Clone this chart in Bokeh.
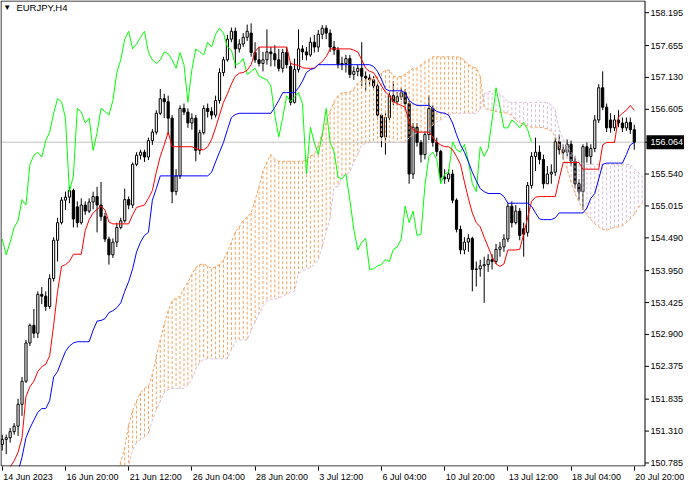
from bokeh.plotting import figure
from bokeh.models import Range1d, FixedTicker, Label, ColumnDataSource
from bokeh.embed import file_html
from bokeh.resources import INLINE
from bokeh.core.properties import value

nan = float("nan")

# ---- EURJPY H4 candles (bar 0 = first visible bar) ----
opens = [151.09,151.17,151.20,151.30,151.39,151.75,152.13,152.76,153.05,152.92,
153.56,153.53,153.36,153.82,154.45,154.74,155.11,155.16,155.27,155.00,
154.74,155.03,154.93,155.08,155.17,155.03,154.84,154.47,154.21,154.42,
154.66,154.77,155.12,155.03,155.70,155.85,155.90,155.82,156.09,156.23,
156.54,156.78,156.73,156.46,155.25,155.51,156.62,156.56,156.38,156.46,
155.93,156.22,156.62,156.57,156.51,156.75,157.21,157.42,157.76,157.89,
157.60,157.68,157.79,157.86,157.54,157.42,157.36,157.42,157.55,157.52,
157.42,157.28,157.54,157.31,156.72,157.26,157.60,157.55,157.50,157.71,
157.63,157.84,157.94,157.86,157.63,157.58,157.34,157.36,157.44,157.18,
157.23,157.28,157.15,157.12,157.09,156.99,156.51,156.15,156.47,156.83,
156.73,156.81,156.88,156.70,155.54,156.31,156.06,155.86,156.19,156.62,
156.06,155.91,155.49,155.46,155.54,155.11,154.63,154.29,154.42,154.48,
153.97,153.98,154.03,154.05,154.13,154.10,154.30,154.34,154.47,155.01,
154.74,154.93,154.64,154.58,155.35,155.83,155.90,155.78,155.38,155.54,
155.57,156.07,155.94,155.90,156.03,155.75,155.38,155.25,155.99,155.83,
155.96,156.43,156.96,156.64,156.43,156.30,156.43,156.38,156.30,156.39,
156.27]
highs = [151.25,151.25,151.36,151.44,151.84,152.20,152.81,153.08,153.32,153.61,
153.68,153.61,153.89,154.50,154.82,155.16,155.25,155.33,155.30,155.09,
155.14,155.09,155.14,155.25,155.33,155.41,154.90,154.51,154.48,154.74,
154.82,155.30,155.17,155.73,155.90,155.94,155.94,156.14,156.28,156.59,
156.94,156.86,156.83,156.51,155.62,156.67,156.70,156.62,156.54,156.51,
156.27,156.67,156.70,156.64,156.83,157.28,157.47,157.83,157.95,157.95,
157.76,157.86,158.00,158.02,157.71,157.63,157.55,157.92,157.63,157.66,
157.60,157.60,157.63,157.37,157.44,157.92,157.66,157.63,157.79,157.83,
157.91,157.99,157.99,157.92,157.73,157.63,157.47,157.50,157.50,157.31,
157.34,157.71,157.23,157.18,157.15,157.02,156.54,156.54,156.89,157.07,
156.89,156.96,156.94,156.75,156.38,156.38,156.10,156.25,156.83,156.67,
156.14,155.94,155.62,155.62,155.61,155.14,154.69,154.50,154.55,154.51,
154.10,154.13,154.18,154.22,154.22,154.39,154.42,154.55,155.06,155.09,
155.03,154.98,154.74,155.41,155.90,156.14,156.01,155.86,155.67,155.70,
156.14,156.19,156.03,156.11,156.09,155.83,155.46,156.03,156.06,156.03,
156.51,157.02,157.23,156.70,156.54,156.51,156.59,156.47,156.47,156.47,
156.35]
lows = [150.99,150.93,151.12,151.25,151.23,151.56,152.10,152.71,152.84,152.84,
153.40,153.29,153.32,153.77,154.10,154.71,154.95,155.06,154.66,154.66,
154.71,154.87,154.90,154.96,154.58,154.77,154.42,154.05,154.16,154.34,
154.63,154.74,154.96,154.98,155.67,155.78,155.74,155.77,156.02,156.19,
156.51,156.46,156.19,155.06,155.19,155.46,156.51,156.30,156.27,155.75,
155.86,156.19,156.47,156.44,156.47,156.70,157.15,157.39,157.71,157.28,
157.54,157.63,157.73,157.47,157.37,157.31,157.23,157.34,157.31,157.31,
157.23,157.21,157.28,156.67,156.70,157.21,157.42,157.41,157.47,157.54,
157.55,157.76,157.76,157.55,157.50,157.28,157.25,157.21,157.12,157.09,
157.15,156.99,156.91,156.99,156.94,156.44,155.98,155.86,156.43,156.67,
156.67,156.76,156.59,155.38,155.46,155.99,155.73,155.78,156.10,155.99,
155.83,155.41,155.38,155.41,155.06,154.58,154.22,154.22,154.26,153.61,
153.69,153.85,153.42,153.93,153.97,154.06,154.18,154.26,154.42,154.66,
154.71,154.45,154.18,154.51,155.30,155.59,155.70,155.30,155.41,155.38,
155.51,155.86,155.78,155.83,155.67,155.30,155.11,154.95,155.73,155.70,
155.90,156.38,156.59,156.23,156.22,156.25,156.31,156.23,156.25,156.20,
155.94]
closes = [151.17,151.20,151.30,151.39,151.75,152.13,152.76,153.05,152.92,153.56,
153.53,153.36,153.82,154.45,154.74,155.11,155.16,155.27,154.80,154.74,
155.03,154.93,155.08,155.17,155.03,154.84,154.47,154.21,154.42,154.66,
154.77,155.12,155.03,155.70,155.85,155.90,155.82,156.09,156.23,156.54,
156.78,156.73,156.46,155.25,155.51,156.62,156.56,156.38,156.46,155.93,
156.22,156.62,156.57,156.51,156.75,157.21,157.42,157.76,157.89,157.60,
157.68,157.79,157.89,157.54,157.42,157.36,157.42,157.55,157.52,157.42,
157.28,157.54,157.34,156.72,157.26,157.60,157.55,157.50,157.71,157.63,
157.84,157.94,157.86,157.63,157.58,157.34,157.36,157.44,157.18,157.23,
157.28,157.15,157.12,157.09,156.99,156.51,156.15,156.47,156.83,156.73,
156.81,156.88,156.70,155.54,156.31,156.06,155.86,156.19,156.62,156.06,
155.91,155.49,155.46,155.54,155.11,154.63,154.29,154.42,154.48,153.97,
153.98,154.03,154.05,154.13,154.10,154.30,154.34,154.47,155.01,154.74,
154.93,154.53,154.55,155.35,155.83,155.90,155.78,155.38,155.54,155.57,
156.07,155.94,155.90,156.03,155.75,155.38,155.25,155.99,155.83,155.96,
156.43,156.96,156.64,156.30,156.30,156.43,156.38,156.30,156.39,156.27,
156.064]

# ---- Ichimoku lines ----
tenkan = [nan,150.59,150.72,150.82,150.96,151.20,151.88,152.04,152.13,152.29,
152.37,152.41,152.55,153.05,153.61,154.02,154.05,154.10,154.22,154.22,
154.22,154.61,154.79,154.90,154.96,155.01,154.95,154.75,154.72,154.72,
154.72,154.72,154.72,154.87,154.99,155.01,155.03,155.14,155.27,155.57,
155.83,156.02,156.23,155.99,155.99,155.99,155.99,155.99,155.99,155.96,
155.94,155.94,155.99,156.11,156.30,156.51,156.72,156.86,157.02,157.15,
157.20,157.21,157.25,157.34,157.55,157.63,157.63,157.63,157.63,157.63,
157.63,157.63,157.63,157.36,157.34,157.33,157.29,157.28,157.28,157.28,
157.34,157.39,157.47,157.60,157.60,157.60,157.60,157.60,157.60,157.58,
157.55,157.42,157.28,157.23,157.21,157.10,156.99,156.89,156.83,156.73,
156.70,156.67,156.64,156.38,156.27,156.23,156.23,156.23,156.23,156.15,
156.06,156.02,155.99,155.99,155.94,155.83,155.70,155.41,155.14,154.90,
154.74,154.67,154.50,154.34,154.18,154.06,154.02,154.06,154.29,154.29,
154.29,154.30,154.55,154.82,155.09,155.16,155.17,155.17,155.17,155.17,
155.17,155.46,155.73,155.73,155.73,155.73,155.73,155.62,155.62,155.62,
155.62,155.62,156.02,156.06,156.06,156.06,156.48,156.54,156.59,156.67,
156.59]
kijun = [nan,nan,nan,nan,150.64,150.88,151.20,151.36,151.49,151.62,
151.68,151.68,151.81,152.20,152.29,152.46,152.62,152.71,152.76,152.78,
152.78,152.78,152.78,152.97,153.12,153.13,153.16,153.26,153.29,153.34,
153.42,153.61,153.77,153.98,154.26,154.42,154.53,154.58,155.11,155.30,
155.51,155.51,155.51,155.51,155.51,155.51,155.51,155.51,155.51,155.51,
155.51,155.51,155.51,155.57,155.74,155.90,156.06,156.27,156.47,156.52,
156.54,156.54,156.54,156.54,156.54,156.54,156.54,156.54,156.54,156.64,
156.75,156.88,156.88,156.88,156.88,156.96,157.07,157.21,157.26,157.28,
157.34,157.34,157.34,157.34,157.34,157.34,157.34,157.34,157.34,157.34,
157.34,157.34,157.34,157.34,157.31,157.23,157.10,156.94,156.91,156.91,
156.91,156.91,156.88,156.75,156.70,156.67,156.67,156.67,156.67,156.62,
156.57,156.55,156.54,156.51,156.38,156.19,156.02,155.90,155.74,155.57,
155.43,155.30,155.25,155.22,155.22,155.22,155.22,155.17,155.06,155.06,
155.06,155.06,155.06,155.06,155.01,154.90,154.80,154.79,154.79,154.79,
154.82,154.90,154.90,154.90,154.90,154.90,154.90,154.90,154.98,155.14,
155.22,155.46,155.70,155.72,155.72,155.72,155.72,155.72,155.86,156.02,
156.06]
span_a = [nan] * 29 + [150.61,
150.80,151.04,151.41,151.65,151.81,151.94,152.01,152.05,152.25,152.54,
152.81,153.07,153.29,153.45,153.50,153.53,153.66,153.76,153.89,154.00,
154.05,154.06,154.03,153.98,154.02,154.05,154.13,154.26,154.42,154.59,
154.67,154.77,154.84,154.90,155.11,155.33,155.59,155.74,155.86,155.78,
155.75,155.75,155.75,155.75,155.75,155.75,155.75,155.78,155.84,155.86,
156.02,156.20,156.39,156.57,156.73,156.83,156.88,156.88,156.89,156.94,
157.04,157.07,157.09,157.10,157.12,157.15,157.20,157.25,157.25,157.15,
157.13,157.15,157.18,157.23,157.28,157.28,157.34,157.39,157.42,157.47,
157.47,157.47,157.47,157.47,157.47,157.47,157.46,157.41,157.34,157.31,
157.28,157.15,156.64,156.59,156.59,156.57,156.55,156.55,156.54,156.51,
156.43,156.38,156.35,156.33,156.31,156.31,156.31,156.30,156.28,156.25,
156.15,155.99,155.82,155.62,155.41,155.22,155.08,154.96,154.87,154.79,
154.72,154.67,154.63,154.61,154.64,154.66,154.67,154.69,154.74,154.80,
154.88,154.98,155.06]
span_b = [nan] * 29 + [150.32,
150.43,150.56,150.75,150.99,151.12,151.17,151.20,151.27,151.49,151.65,
151.80,151.94,151.99,152.01,152.01,152.01,152.01,152.07,152.17,152.33,
152.44,152.49,152.50,152.50,152.50,152.50,152.50,152.50,152.65,152.78,
152.81,152.81,152.81,152.97,153.10,153.24,153.37,153.45,153.48,153.48,
153.50,153.53,153.56,153.60,153.61,153.90,153.95,153.97,154.00,154.05,
154.13,154.34,154.58,154.82,155.33,155.33,155.51,155.54,155.57,155.74,
155.86,156.02,156.04,156.06,156.06,156.06,156.06,156.06,156.06,156.06,
156.06,156.06,156.06,156.14,156.19,156.22,156.23,156.23,156.27,156.35,
156.40,156.43,156.48,156.51,156.54,156.54,156.54,156.54,156.54,156.54,
156.54,156.60,156.86,156.89,156.91,156.91,156.86,156.80,156.73,156.72,
156.72,156.72,156.72,156.72,156.72,156.72,156.72,156.72,156.72,156.67,
156.59,156.27,156.11,156.00,155.90,155.82,155.75,155.70,155.70,155.70,
155.70,155.70,155.70,155.70,155.70,155.70,155.70,155.70,155.70,155.70,
155.62,155.57,155.51]
chikou_shift = 26

price_ticks = [158.195, 157.655, 157.130, 156.605, 156.064, 155.540, 155.015, 154.490,
               153.950, 153.425, 152.900, 152.375, 151.835, 151.310, 150.785]
time_ticks = [0, 16, 32, 48, 64, 80, 96, 112, 128, 144, 160]
time_labels = ["14 Jun 2023", "16 Jun 20:00", "21 Jun 12:00", "26 Jun 04:00", "28 Jun 20:00",
               "3 Jul 12:00", "6 Jul 04:00", "10 Jul 20:00", "13 Jul 12:00", "18 Jul 04:00",
               "20 Jul 20:00"]
symbol = "EURJPY,H4"
last_price = closes[-1]

# ---- styling / geometry ----
FONT = "Liberation Sans"
FSIZE = 9
SANDY = "#F4A460"
THISTLE = "#D8BFD8"

FW, FH = 684, 466          # frame = chart window + price scale strip
PPB = 3.95                 # pixels per bar
xr0 = -0.45
xr1 = xr0 + FW / PPB
x_left = xr0 + 0.5 / PPB   # chart window border (left)
x_right = xr0 + 644.5 / PPB  # chart window border (right), price scale beyond
y_lo, y_hi = 150.735, 158.388
PPU = (FH - 1) / (y_hi - y_lo)
yr0, yr1 = y_lo - 0.5 / PPU, y_hi + 0.5 / PPU

n = len(closes)
xs = list(range(n))

p = figure(width=684, height=484, frame_width=FW, frame_height=FH,
           output_backend="svg", toolbar_location=None,
           x_range=Range1d(xr0, xr1), y_range=Range1d(yr0, yr1),
           y_axis_location=None, x_axis_location="below",
           min_border_left=0, min_border_top=0, min_border_right=0, min_border_bottom=18)
p.grid.visible = False
p.outline_line_color = None
p.background_fill_color = "white"
p.border_fill_color = "white"

# bid line (inside the chart window only)
p.segment(x0=[x_left], y0=[last_price], x1=[x_right], y1=[last_price],
          line_color="#C0C0C0", line_width=1)

# candles
src = ColumnDataSource(dict(
    x=xs, h=highs, l=lows,
    top=[max(o, c) for o, c in zip(opens, closes)],
    bottom=[min(o, c) for o, c in zip(opens, closes)],
    fill=["white" if c >= o else "black" for o, c in zip(opens, closes)],
))
p.segment(x0="x", y0="h", x1="x", y1="l", source=src, line_color="black", line_width=1)
p.vbar(x="x", top="top", bottom="bottom", width=0.55, source=src,
       fill_color="fill", line_color="black", line_width=1)

# cloud hatch
cx, ca, cb, cc = [], [], [], []
for i, (a, b) in enumerate(zip(span_a, span_b)):
    if a == a and b == b:
        cx.append(i); ca.append(a); cb.append(b)
        cc.append(SANDY if a >= b else THISTLE)
p.segment(x0=cx, y0=ca, x1=cx, y1=cb, line_color=cc, line_width=1, line_dash="3 2")
p.line(list(range(len(span_a))), span_a, line_color=SANDY, line_width=1, line_dash="3 2")
p.line(list(range(len(span_b))), span_b, line_color=THISTLE, line_width=1, line_dash="3 2")

# chikou, tenkan, kijun
p.line([i - chikou_shift for i in range(chikou_shift, n)], closes[chikou_shift:],
       line_color="#00FF00", line_width=1)
p.line(xs, tenkan, line_color="#FF0000", line_width=1)
p.line(xs, kijun, line_color="#0000FF", line_width=1)

# chart window border
p.segment(x0=[x_left, x_left, x_left, x_right], y0=[y_lo, y_hi, y_lo, y_lo],
          x1=[x_right, x_right, x_left, x_right], y1=[y_lo, y_hi, y_hi, y_hi],
          line_color="black", line_width=1)

# price scale: ticks, labels and the current price box
p.segment(x0=[x_right] * len(price_ticks), y0=price_ticks,
          x1=[x_right + 4 / PPB] * len(price_ticks), y1=price_ticks,
          line_color="black", line_width=1)
lab_ticks = [t for t in price_ticks if t != last_price]
p.text(x=[x_right + 5.5 / PPB] * len(lab_ticks), y=lab_ticks,
       text=[f"{t:.3f}" for t in lab_ticks], text_color="black",
       text_font=value(FONT), text_font_size=value(f"{FSIZE}px"),
       text_align="left", text_baseline="middle")
p.quad(left=[x_right + 1.5 / PPB], right=[xr1], top=[last_price + 7 / PPU],
       bottom=[last_price - 7 / PPU], fill_color="black", line_color=None)
p.text(x=[x_right + 5.5 / PPB], y=[last_price], text=[f"{last_price:.3f}"],
       text_color="white", text_font=value(FONT), text_font_size=value(f"{FSIZE}px"),
       text_align="left", text_baseline="middle")

# time axis (below): MT4 labels start at their tick, so the (centred) labels
# sit half a label width right of the tick; the tick marks are the minor ticks.
char_w = {" ": 0.278, ":": 0.278, "J": 0.5, "u": 0.556, "n": 0.556, "l": 0.222}
def half_width_bars(s):
    w = sum(char_w.get(c, 0.556) for c in s) * FSIZE
    return (1 + w / 2) / PPB
label_pos = [t + half_width_bars(s) for t, s in zip(time_ticks, time_labels)]

xa = p.xaxis[0]
xa.axis_label = None
xa.ticker = FixedTicker(ticks=label_pos, minor_ticks=time_ticks)
xa.major_label_overrides = {pos: s for pos, s in zip(label_pos, time_labels)}
xa.major_tick_line_color = None
xa.major_tick_in = 0
xa.major_tick_out = 4
xa.minor_tick_line_color = "black"
xa.minor_tick_in = 0
xa.minor_tick_out = 4
xa.major_label_standoff = 1
xa.axis_line_color = None
xa.major_label_text_font = FONT
xa.major_label_text_font_size = f"{FSIZE}px"
xa.major_label_text_color = "black"

# symbol caption
p.add_layout(Label(x=x_left + 1.6, y=y_hi - 0.115, text="\u25bc", text_color="black",
                   text_align="center", text_baseline="middle", text_font=FONT,
                   text_font_size="8px"))
p.add_layout(Label(x=x_left + 3.9, y=y_hi - 0.115, text=symbol, text_color="black",
                   text_align="left", text_baseline="middle", text_font=FONT,
                   text_font_size=f"{FSIZE + 0.5}px"))

open("out.html", "w").write(file_html(p, INLINE))
